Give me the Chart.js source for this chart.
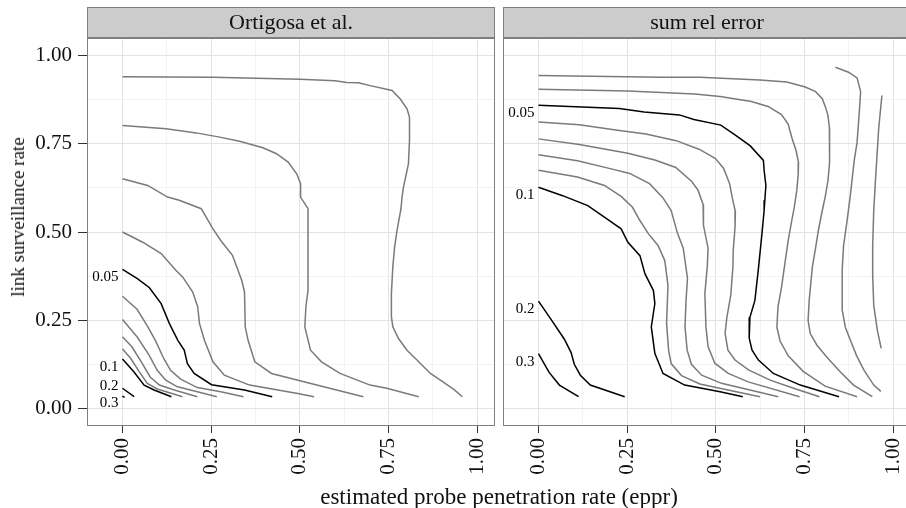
<!DOCTYPE html>
<html>
<head>
<meta charset="utf-8">
<script src="https://cdn.jsdelivr.net/npm/chart.js@4.4.1/dist/chart.umd.min.js"></script>
<style>
  body { margin: 0; background: #fff; }
  #wrap { position: relative; width: 906px; height: 508px; overflow: hidden; background: #fff; }
  canvas { position: absolute; top: 0; }
  .title { position: absolute; font-family: 'Liberation Serif', serif; color: #111; white-space: nowrap; }
  #ytitle { left: 18px; top: 217px; font-size: 19px; transform: translate(-50%, -50%) rotate(-90deg); }
  #xtitle { left: 499px; top: 497px; font-size: 23px; transform: translate(-50%, -50%); }
</style>
</head>
<body>
<div id="wrap">
  <canvas id="leftPanel" width="499" height="508" style="left:0;width:499px;height:508px"></canvas>
  <canvas id="rightPanel" width="414" height="508" style="left:499px;width:414px;height:508px"></canvas>
  <div class="title" id="ytitle">link surveillance rate</div>
  <div class="title" id="xtitle">estimated probe penetration rate (eppr)</div>
</div>
<script>
// ─── Data ──────────────────────────────────────────────────
const PANELS = ['Ortigosa et al.', 'sum rel error'];
const LEVELS = ['0.01', '0.02', '0.03', '0.04', '0.05', '0.06', '0.07', '0.08', '0.09', '0.1', '0.2', '0.3'];
const LABELLED = ['0.05', '0.1', '0.2', '0.3'];
const TICK_VALUES = [0, 0.125, 0.25, 0.375, 0.5, 0.625, 0.75, 0.875, 1];
const MAJOR_TICKS = [0, 0.25, 0.5, 0.75, 1];

// Ortigosa et al. contours, [eppr, link surveillance rate]
const ort01 = [[0,0.940],[0.255,0.939],[0.500,0.933],[0.599,0.929],[0.632,0.924],[0.665,0.923],[0.698,0.915],[0.760,0.901],[0.783,0.877],[0.802,0.849],[0.809,0.825],[0.809,0.759],[0.806,0.693],[0.792,0.627],[0.788,0.599],[0.785,0.566],[0.774,0.505],[0.767,0.457],[0.762,0.401],[0.758,0.326],[0.758,0.260],[0.762,0.231],[0.778,0.198],[0.802,0.165],[0.830,0.137],[0.868,0.099],[0.896,0.080],[0.934,0.054],[0.958,0.033]];
const ort02 = [[0,0.802],[0.123,0.793],[0.208,0.781],[0.274,0.769],[0.330,0.757],[0.396,0.739],[0.434,0.722],[0.467,0.698],[0.491,0.665],[0.502,0.637],[0.502,0.599],[0.523,0.566],[0.523,0.476],[0.523,0.335],[0.517,0.288],[0.514,0.231],[0.530,0.165],[0.561,0.132],[0.613,0.099],[0.698,0.066],[0.745,0.057],[0.835,0.033]];
const ort03 = [[0,0.651],[0.071,0.632],[0.127,0.599],[0.160,0.590],[0.222,0.566],[0.255,0.509],[0.277,0.476],[0.310,0.434],[0.336,0.363],[0.344,0.330],[0.346,0.231],[0.354,0.193],[0.373,0.132],[0.420,0.099],[0.528,0.071],[0.679,0.033]];
const ort04 = [[0,0.500],[0.057,0.471],[0.109,0.439],[0.151,0.391],[0.170,0.372],[0.198,0.330],[0.212,0.288],[0.217,0.241],[0.231,0.193],[0.255,0.132],[0.287,0.094],[0.358,0.066],[0.494,0.042],[0.540,0.033]];
const ort05 = [[0,0.394],[0.042,0.368],[0.076,0.342],[0.109,0.297],[0.132,0.241],[0.156,0.193],[0.174,0.165],[0.183,0.127],[0.202,0.099],[0.251,0.067],[0.344,0.052],[0.422,0.033]];
const ort06 = [[0,0.318],[0.041,0.281],[0.070,0.234],[0.093,0.192],[0.117,0.140],[0.136,0.107],[0.164,0.083],[0.211,0.059],[0.277,0.047],[0.341,0.033]];
const ort07 = [[0,0.252],[0.041,0.203],[0.075,0.151],[0.098,0.108],[0.122,0.080],[0.155,0.061],[0.211,0.047],[0.266,0.033]];
const ort08 = [[0,0.203],[0.027,0.174],[0.056,0.127],[0.078,0.089],[0.104,0.066],[0.146,0.052],[0.211,0.033]];
const ort09 = [[0,0.168],[0.023,0.142],[0.047,0.104],[0.070,0.071],[0.098,0.055],[0.169,0.033]];
const ort10 = [[0,0.140],[0.032,0.104],[0.061,0.066],[0.089,0.052],[0.138,0.033]];
const ort20 = [[0,0.057],[0.033,0.033]];
const ort30 = [[0,0.035],[0.006,0.031]];

// sum rel error contours
const sre01 = [[0.968,0.887],[0.959,0.794],[0.950,0.650],[0.945,0.561],[0.942,0.462],[0.942,0.377],[0.945,0.292],[0.955,0.222],[0.966,0.170]];
const sre02 = [[0.837,0.967],[0.874,0.953],[0.898,0.937],[0.908,0.898],[0.905,0.850],[0.898,0.754],[0.890,0.703],[0.879,0.604],[0.870,0.533],[0.860,0.462],[0.856,0.392],[0.856,0.279],[0.865,0.230],[0.879,0.194],[0.896,0.151],[0.917,0.109],[0.945,0.066],[0.965,0.048]];
const sre03 = [[0,0.944],[0.346,0.939],[0.455,0.939],[0.624,0.931],[0.700,0.925],[0.752,0.911],[0.781,0.898],[0.800,0.878],[0.809,0.854],[0.816,0.830],[0.820,0.796],[0.820,0.745],[0.821,0.697],[0.816,0.646],[0.809,0.604],[0.800,0.561],[0.789,0.505],[0.781,0.454],[0.772,0.401],[0.763,0.306],[0.760,0.249],[0.766,0.212],[0.785,0.179],[0.813,0.145],[0.851,0.103],[0.888,0.066],[0.941,0.033]];
const sre04 = [[0,0.905],[0.252,0.900],[0.441,0.891],[0.512,0.884],[0.600,0.870],[0.647,0.856],[0.685,0.833],[0.704,0.805],[0.714,0.768],[0.726,0.731],[0.733,0.697],[0.732,0.661],[0.728,0.618],[0.721,0.570],[0.714,0.533],[0.704,0.477],[0.695,0.414],[0.685,0.343],[0.675,0.287],[0.672,0.230],[0.681,0.191],[0.704,0.149],[0.746,0.105],[0.808,0.063],[0.898,0.033]];
const sre05 = [[0,0.859],[0.158,0.853],[0.228,0.850],[0.298,0.840],[0.397,0.832],[0.438,0.819],[0.514,0.803],[0.559,0.772],[0.597,0.744],[0.634,0.703],[0.636,0.675],[0.641,0.632],[0.638,0.590],[0.636,0.561],[0.629,0.486],[0.620,0.397],[0.610,0.306],[0.596,0.258],[0.594,0.199],[0.602,0.165],[0.620,0.137],[0.662,0.099],[0.738,0.066],[0.847,0.033]];
const sre06 = [[0,0.812],[0.115,0.804],[0.228,0.788],[0.303,0.778],[0.388,0.759],[0.454,0.734],[0.499,0.708],[0.522,0.680],[0.539,0.636],[0.546,0.598],[0.555,0.558],[0.554,0.513],[0.549,0.448],[0.548,0.400],[0.542,0.321],[0.531,0.258],[0.526,0.213],[0.534,0.165],[0.554,0.137],[0.592,0.109],[0.653,0.080],[0.719,0.057],[0.792,0.033]];
const sre07 = [[0,0.764],[0.115,0.748],[0.252,0.723],[0.328,0.704],[0.387,0.683],[0.432,0.643],[0.450,0.618],[0.464,0.578],[0.465,0.519],[0.478,0.454],[0.476,0.406],[0.469,0.325],[0.472,0.231],[0.478,0.175],[0.497,0.128],[0.535,0.099],[0.591,0.075],[0.736,0.033]];
const sre08 = [[0,0.719],[0.110,0.702],[0.205,0.679],[0.257,0.666],[0.313,0.637],[0.350,0.598],[0.374,0.561],[0.391,0.499],[0.408,0.454],[0.420,0.369],[0.416,0.307],[0.413,0.231],[0.419,0.165],[0.431,0.125],[0.460,0.094],[0.516,0.071],[0.676,0.033]];
const sre09 = [[0,0.675],[0.110,0.656],[0.186,0.632],[0.233,0.601],[0.265,0.570],[0.285,0.534],[0.309,0.496],[0.337,0.462],[0.356,0.419],[0.365,0.349],[0.361,0.241],[0.367,0.163],[0.374,0.127],[0.403,0.093],[0.455,0.069],[0.511,0.057],[0.624,0.033]];
const sre10 = [[0,0.627],[0.068,0.603],[0.139,0.575],[0.200,0.532],[0.233,0.509],[0.252,0.471],[0.286,0.433],[0.300,0.382],[0.324,0.334],[0.328,0.297],[0.318,0.231],[0.328,0.156],[0.351,0.099],[0.412,0.066],[0.512,0.047],[0.576,0.033]];
const sre20 = [[0,0.304],[0.033,0.256],[0.073,0.196],[0.092,0.158],[0.101,0.125],[0.118,0.094],[0.146,0.066],[0.243,0.033]];
const sre30 = [[0,0.155],[0.030,0.102],[0.059,0.066],[0.113,0.033]];

const ortigosaLines = [ort01, ort02, ort03, ort04, ort05, ort06, ort07, ort08, ort09, ort10, ort20, ort30];
const sumRelLines   = [sre01, sre02, sre03, sre04, sre05, sre06, sre07, sre08, sre09, sre10, sre20, sre30];

// vertical nudge (px) of each direct label, in LABELLED order
const ortigosaLabelDy = [8, 8, -2, 7];
const sumRelLabelDy   = [8, 8, 8, 8];

// ─── Style ─────────────────────────────────────────────────
const FONT = "'Liberation Serif', serif";
Chart.defaults.font.family = FONT;
Chart.defaults.color = '#111';
const GREY_LINE = '#7a7a7a';
const BORDER = '#7f7f7f';
const GRID_MAJOR = '#e3e3e3';
const GRID_MINOR = '#f3f3f3';
const isMajor = v => MAJOR_TICKS.some(m => Math.abs(m - v) < 1e-9);

// strip + panel border + contour labels
const facetPlugin = {
  id: 'facet',
  afterDatasetsDraw(chart, args, opts) {
    const { ctx } = chart;
    ctx.save();
    ctx.font = '15px ' + FONT;
    ctx.fillStyle = '#000';
    ctx.textAlign = 'right';
    ctx.textBaseline = 'middle';
    LABELLED.forEach((lev, i) => {
      const pts = opts.lines[LEVELS.indexOf(lev)];
      const x = chart.scales.x.getPixelForValue(pts[0][0]) - 4;
      const y = chart.scales.y.getPixelForValue(pts[0][1]) + opts.labelDy[i];
      ctx.fillText(lev, x, y);
    });
    ctx.restore();
  },
  afterDraw(chart, args, opts) {
    const { ctx, chartArea: a } = chart;
    ctx.save();
    ctx.strokeStyle = BORDER;
    ctx.lineWidth = 1;
    ctx.strokeRect(a.left + 0.5, a.top + 0.5, a.right - a.left - 1, a.bottom - a.top - 1);
    ctx.fillStyle = '#cccccc';
    ctx.fillRect(a.left, 8, a.right - a.left, 30);
    ctx.strokeRect(a.left + 0.5, 7.5, a.right - a.left - 1, 30);
    ctx.fillStyle = '#111';
    ctx.font = '22px ' + FONT;
    ctx.textAlign = 'center';
    ctx.textBaseline = 'middle';
    ctx.fillText(opts.title, (a.left + a.right) / 2, 23);
    ctx.restore();
  }
};

function createContourPanel(canvasId, title, lines, labelDy, showY) {
  const datasets = lines.map((pts, i) => ({
    label: LEVELS[i],
    data: pts.map(([x, y]) => ({ x, y })),
    showLine: true,
    borderColor: LABELLED.includes(LEVELS[i]) ? '#000' : GREY_LINE,
    borderWidth: 1.5,
    pointRadius: 0,
    fill: false,
    tension: 0,
  }));

  const gridColor = c => isMajor(c.tick.value) ? GRID_MAJOR : GRID_MINOR;
  const tickColor = c => isMajor(c.tick.value) ? '#333' : 'rgba(0,0,0,0)';
  const setTicks = s => { s.ticks = TICK_VALUES.map(v => ({ value: v })); };

  return new Chart(document.getElementById(canvasId), {
    type: 'scatter',
    data: { datasets },
    options: {
      responsive: false,
      animation: false,
      layout: { padding: showY ? { top: 38, right: 4, left: 0, bottom: 0 } : { top: 38, right: 2, left: 4, bottom: 0 } },
      plugins: {
        legend: { display: false },
        tooltip: { enabled: false },
        facet: { title, lines, labelDy }
      },
      scales: {
        x: {
          type: 'linear', min: -0.1, max: 1.05,
          afterBuildTicks: setTicks,
          afterFit: s => { s.height = 82; s.paddingLeft = 0; s.paddingRight = 0; },
          border: { display: false },
          grid: { color: gridColor, tickColor, tickLength: 7, lineWidth: 1 },
          ticks: {
            autoSkip: false, minRotation: 90, maxRotation: 90, padding: 5,
            font: { size: 21 }, color: '#111',
            callback: v => isMajor(v) ? v.toFixed(2) : ''
          }
        },
        y: {
          type: 'linear', min: -0.05, max: 1.05,
          afterBuildTicks: setTicks,
          afterFit: s => { s.width = showY ? 87 : 0; s.paddingTop = 0; s.paddingBottom = 0; },
          border: { display: false },
          grid: { color: gridColor, tickColor, tickLength: 9, lineWidth: 1, drawTicks: showY },
          ticks: {
            display: showY, autoSkip: false, padding: 6,
            font: { size: 21 }, color: '#111',
            callback: v => isMajor(v) ? v.toFixed(2) : ''
          }
        }
      }
    },
    plugins: [facetPlugin]
  });
}

createContourPanel('leftPanel', PANELS[0], ortigosaLines, ortigosaLabelDy, true);
createContourPanel('rightPanel', PANELS[1], sumRelLines, sumRelLabelDy, false);
</script>
</body>
</html>
